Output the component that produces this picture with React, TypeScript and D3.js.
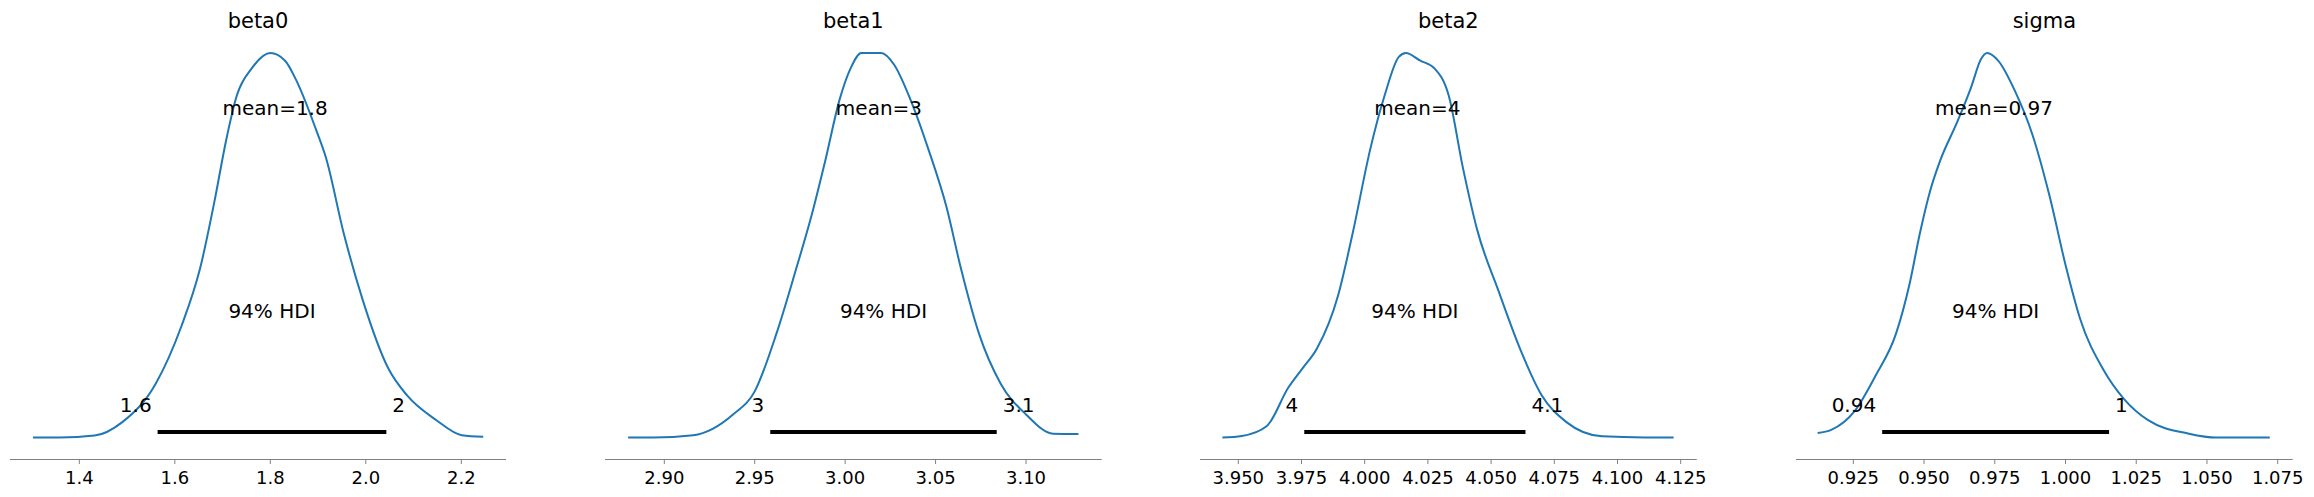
import * as d3 from 'd3';

// ---- data ----
const PARAMS = ['beta0', 'beta1', 'beta2', 'sigma'];
const MEAN_LABELS = ['mean=1.8', 'mean=3', 'mean=4', 'mean=0.97'];
const MEANS = [1.81, 3.0187, 4.0208, 0.9747];
const HDI_LOW = [1.564, 2.9586, 3.9761, 0.9352];
const HDI_HIGH = [2.043, 3.0838, 4.0636, 1.0154];
const HDI_LOW_LABELS = ['1.6', '3', '4', '0.94'];
const HDI_HIGH_LABELS = ['2', '3.1', '4.1', '1'];

const TICKS = [
  [1.4, 1.6, 1.8, 2.0, 2.2],
  [2.9, 2.95, 3.0, 3.05, 3.1],
  [3.95, 3.975, 4.0, 4.025, 4.05, 4.075, 4.1, 4.125],
  [0.925, 0.95, 0.975, 1.0, 1.025, 1.05, 1.075],
];
const TICK_DIGITS = [1, 2, 3, 3];

// kde curves: [value, relative density]
const KDE_BETA0: [number, number][] = [
  [1.303, 0], [1.359, 0], [1.432, 0.005], [1.49, 0.04], [1.56, 0.14], [1.614, 0.29],
  [1.653, 0.44], [1.684, 0.62], [1.707, 0.77], [1.73, 0.89], [1.761, 0.96], [1.8, 1.0],
  [1.831, 0.98], [1.854, 0.93], [1.896, 0.8], [1.916, 0.73], [1.954, 0.53], [1.993, 0.36],
  [2.047, 0.18], [2.086, 0.11], [2.148, 0.045], [2.201, 0.006], [2.246, 0.002],
];
const KDE_BETA1: [number, number][] = [
  [2.88, 0], [2.894, 0], [2.916, 0.006], [2.938, 0.06], [2.95, 0.12], [2.962, 0.27],
  [2.973, 0.44], [2.981, 0.57], [2.989, 0.72], [2.997, 0.88], [3.003, 0.96], [3.009, 1.0],
  [3.02, 1.0], [3.027, 0.97], [3.036, 0.88], [3.046, 0.75], [3.056, 0.6], [3.064, 0.44],
  [3.074, 0.27], [3.086, 0.14], [3.1, 0.06], [3.115, 0.01], [3.129, 0.009],
];
const KDE_BETA2: [number, number][] = [
  [3.9437, 0], [3.9514, 0.004], [3.9613, 0.03], [3.9698, 0.13], [3.9754, 0.18], [3.981, 0.23],
  [3.9895, 0.37], [3.9952, 0.53], [4.0022, 0.75], [4.0079, 0.89], [4.0135, 0.99], [4.0163, 1.0],
  [4.022, 0.98], [4.0276, 0.96], [4.0332, 0.89], [4.0389, 0.7], [4.0445, 0.54], [4.053, 0.38],
  [4.0615, 0.23], [4.07, 0.11], [4.0798, 0.04], [4.0939, 0.003], [4.1109, 0], [4.1222, 0],
];
const KDE_SIGMA: [number, number][] = [
  [0.9124, 0.012], [0.9172, 0.02], [0.9256, 0.07], [0.9328, 0.16], [0.9401, 0.27], [0.9449, 0.4],
  [0.9485, 0.53], [0.9521, 0.64], [0.9557, 0.72], [0.9617, 0.82], [0.9666, 0.91], [0.9702, 0.985],
  [0.9723, 1.0], [0.9762, 0.98], [0.9822, 0.9], [0.9882, 0.79], [0.9943, 0.63], [1.0003, 0.44],
  [1.0051, 0.31], [1.0135, 0.175], [1.0207, 0.1], [1.0292, 0.045], [1.0436, 0.01], [1.0532, 0],
  [1.0722, 0],
];
const KDES = [KDE_BETA0, KDE_BETA1, KDE_BETA2, KDE_SIGMA];

// layout: pixel calibration per panel (axis span + two tick anchors)
const PANELS = [
  { axis: [10, 506], ref: [[1.4, 79.3], [2.2, 461.3]] },
  { axis: [605, 1101.7], ref: [[2.9, 664.3], [3.1, 1026]] },
  { axis: [1200, 1696.7], ref: [[3.95, 1238.3], [4.125, 1680.7]] },
  { axis: [1796, 2292.7], ref: [[0.925, 1853.3], [1.075, 2277.7]] },
];

const W = 2314, H = 497;
const FONT = '"DejaVu Sans", sans-serif';
const AXIS_Y = 459.5;
const BLUE = '#1f77b4';

export default function App() {
  const y = d3.scaleLinear().domain([0, 1]).range([437.5, 53]);
  const line = d3.line<[number, number]>().curve(d3.curveMonotoneX);

  return (
    <svg width={W} height={H} style={{ position: 'absolute', left: 0, top: 0, background: '#fff' }}
      fontFamily={FONT}>
      {PANELS.map((p, i) => {
        const [[v0, p0], [v1, p1]] = p.ref;
        const k = (p1 - p0) / (v1 - v0);
        const x = d3.scaleLinear()
          .domain([v0 + (p.axis[0] - p0) / k, v0 + (p.axis[1] - p0) / k])
          .range(p.axis);
        const mid = (p.axis[0] + p.axis[1]) / 2;
        const fmt = d3.format(`.${TICK_DIGITS[i]}f`);
        const hl = x(HDI_LOW[i]), hh = x(HDI_HIGH[i]);
        return (
          <g key={PARAMS[i]}>
            <text x={mid} y={28} textAnchor="middle" fontSize={21}>{PARAMS[i]}</text>
            <path d={line.x(d => x(d[0])).y(d => y(d[1]))(KDES[i]) || ''}
              fill="none" stroke={BLUE} strokeWidth={2} />
            <line x1={hl} x2={hh} y1={432} y2={432} stroke="#000" strokeWidth={4} />
            <text x={x(MEANS[i])} y={115} textAnchor="middle" fontSize={20}>{MEAN_LABELS[i]}</text>
            <text x={(hl + hh) / 2} y={318} textAnchor="middle" fontSize={20}>94% HDI</text>
            <text x={hl - 6} y={412} textAnchor="end" fontSize={20}>{HDI_LOW_LABELS[i]}</text>
            <text x={hh + 6} y={412} textAnchor="start" fontSize={20}>{HDI_HIGH_LABELS[i]}</text>
            <line x1={p.axis[0]} x2={p.axis[1]} y1={AXIS_Y} y2={AXIS_Y} stroke="#808080" strokeWidth={1} />
            {TICKS[i].map(t => (
              <g key={t} transform={`translate(${x(t)},${AXIS_Y})`}>
                <line y2={4.5} stroke="#808080" />
                <text y={24} textAnchor="middle" fontSize={18}>{fmt(t)}</text>
              </g>
            ))}
          </g>
        );
      })}
    </svg>
  );
}
